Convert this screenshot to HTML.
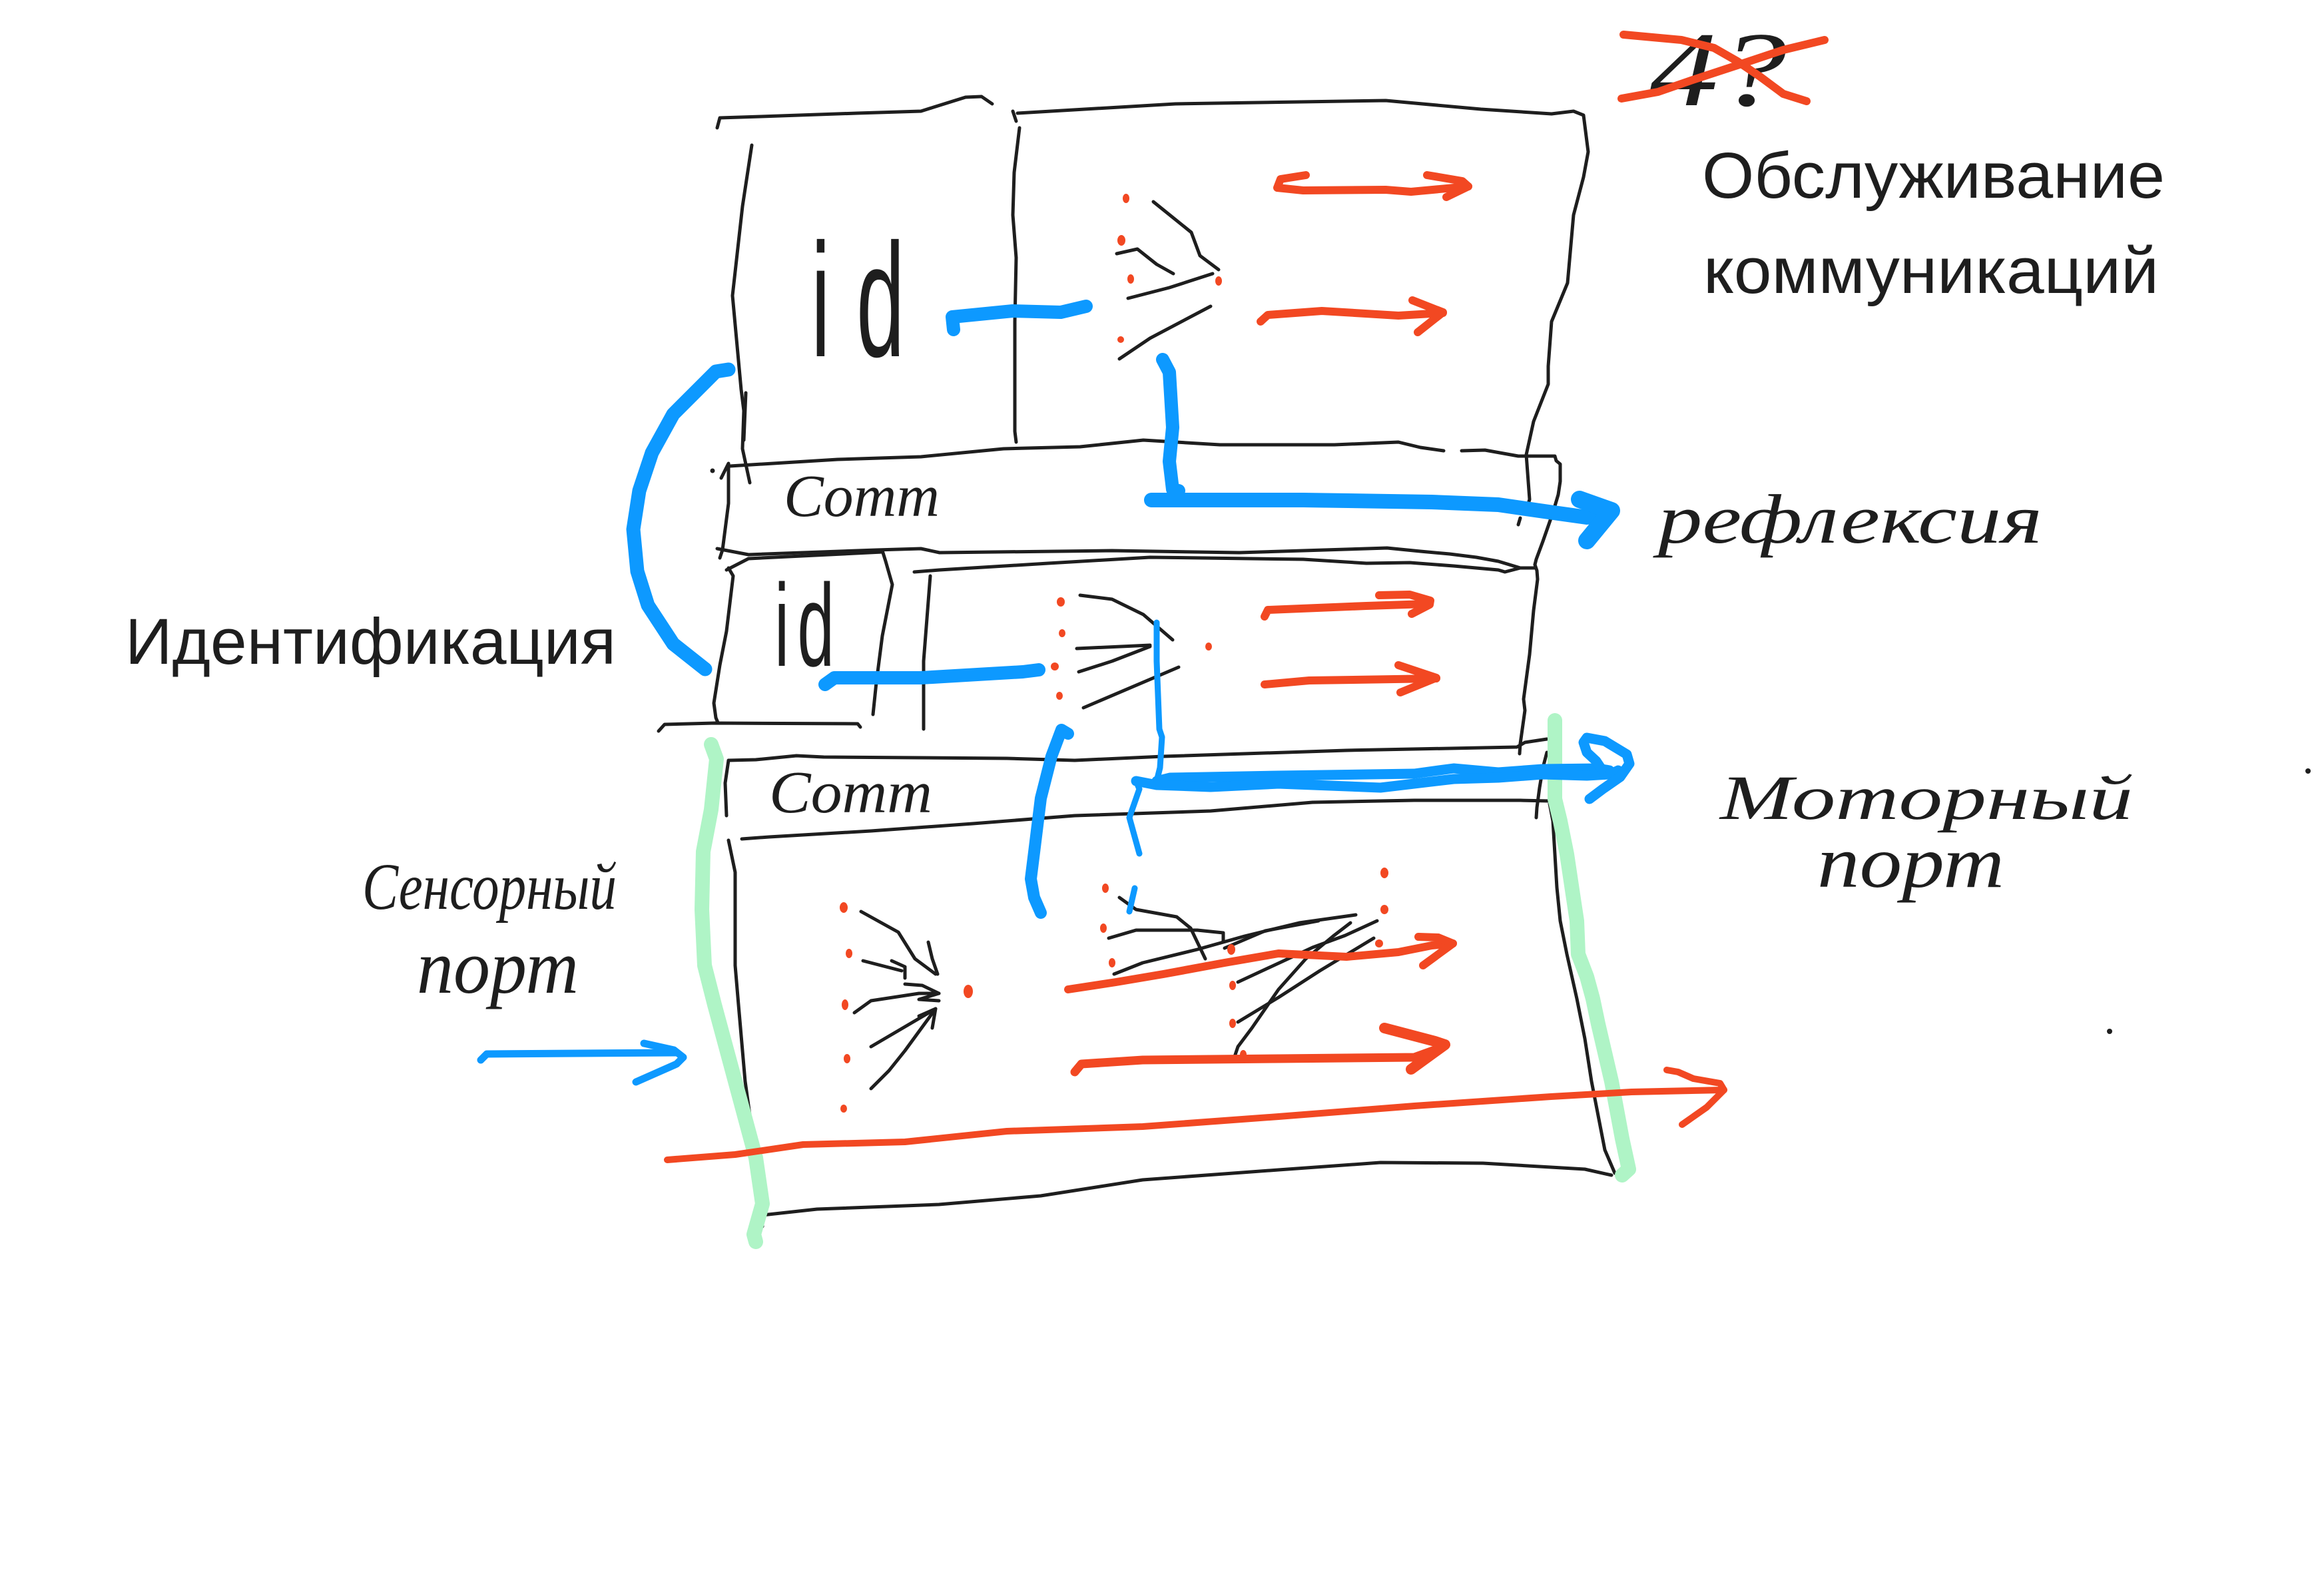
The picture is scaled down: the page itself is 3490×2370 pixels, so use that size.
<!DOCTYPE html>
<html>
<head>
<meta charset="utf-8">
<style>
  html,body{margin:0;padding:0;background:#fff;}
  body{width:3490px;height:2370px;overflow:hidden;position:relative;}
  svg{position:absolute;left:0;top:0;}
  .k{stroke:#1e1e1e;stroke-width:5;fill:none;stroke-linecap:round;stroke-linejoin:round;}
  .r{stroke:#f24822;stroke-width:12;fill:none;stroke-linecap:round;stroke-linejoin:round;}
  .b{stroke:#0d99ff;fill:none;stroke-linecap:round;stroke-linejoin:round;}
  .g{stroke:#aff4c6;stroke-width:22;fill:none;stroke-linecap:round;stroke-linejoin:round;}
  .hw{font-family:"Liberation Serif","DejaVu Serif",serif;font-style:italic;fill:#1e1e1e;}
  .pt{font-family:"Liberation Sans","DejaVu Sans",sans-serif;fill:#1e1e1e;}
  .idt{font-family:"DejaVu Sans ExtraLight","Liberation Sans",sans-serif;font-weight:200;fill:#1e1e1e;}
</style>
</head>
<body>
<svg width="3490" height="2370" viewBox="0 0 3490 2370" xmlns="http://www.w3.org/2000/svg">
  <rect x="0" y="0" width="3490" height="2370" fill="#fff"/>

  <!-- ===== black structure ===== -->
  <g class="k">
    <!-- top box -->
    <path d="M1077,192 L1081,177 L1143,175 L1287,170 L1383,167 L1402,161 L1450,146 L1474,145 L1490,156"/>
    <path d="M1521,167 L1526,182"/>
    <path d="M1528,170 L1765,156 L2081,151 L2224,164 L2330,171 L2363,167 L2378,173 L2385,228 L2378,266 L2363,323 L2354,425 L2330,483 L2325,550 L2325,577 L2303,633 L2292,683 L2297,750 L2294,760"/>
    <path d="M2283,778 L2280,788"/>
    <path d="M1129,218 L1115,310 L1100,444 L1113,585 L1117,617 L1115,674 L1126,725"/>
    <path d="M1120,590 L1117,661"/>
    <path d="M1531,192 L1523,259 L1521,323 L1526,387 L1524,483 L1524,648 L1526,664"/>

    <!-- comm bar 1 -->
    <path d="M1096,700 L1258,690 L1383,686 L1507,674 L1622,671 L1717,661 L1832,668 L2004,668 L2100,664 L2133,672 L2168,677"/>
    <path d="M2195,677 L2230,676 L2280,685 L2335,685 L2337,692 L2343,697 L2343,723 L2340,743 L2332,770 L2317,813 L2307,840 L2305,848"/>
    <path d="M1083,718 L1094,696 L1094,756 L1085,826 L1081,838"/>
    <path d="M1077,824 L1124,833 L1316,826 L1383,824 L1411,830 L1670,827 L1861,830 L1957,827 L2052,824 L2083,823 L2133,828 L2177,832 L2217,837 L2250,843 L2283,853"/>
    <path d="M1091,856 L1124,839 L1325,829"/>
    <path d="M1373,859 L1411,856 L1574,846 L1727,837 L1957,840 L2052,846 L2117,845 L2183,850 L2250,856 L2260,859 L2283,853 L2305,853"/>

    <!-- box 2 -->
    <path d="M1094,853 L1101,865 L1091,948 L1081,999 L1072,1056 L1075,1078 L1078,1085"/>
    <path d="M1325,827 L1330,843 L1340,878 L1325,955 L1316,1025 L1311,1073"/>
    <path d="M1397,865 L1387,993 L1387,1095"/>
    <path d="M2305,848 L2308,857 L2309,870 L2303,917 L2297,983 L2288,1050 L2290,1067 L2283,1117 L2282,1132"/>
    <path d="M989,1098 L998,1088 L1073,1086 L1288,1087 L1292,1092"/>

    <!-- selector 1 -->
    <path d="M1732,303 L1789,349 L1802,384 L1830,405"/>
    <path d="M1677,381 L1708,374 L1737,397 L1762,411"/>
    <path d="M1694,448 L1756,432 L1821,411"/>
    <path d="M1681,539 L1727,508 L1818,460"/>

    <!-- selector 2 -->
    <path d="M1622,894 L1670,900 L1717,923 L1761,961"/>
    <path d="M1617,974 L1727,969"/>
    <path d="M1620,1009 L1670,993 L1727,971"/>
    <path d="M1627,1063 L1770,1002"/>

    <!-- comm bar 2 -->
    <path d="M1094,1142 L1135,1141 L1196,1135 L1237,1137 L1512,1139 L1614,1142 L1747,1136 L2022,1127 L2227,1123 L2278,1122 L2290,1115 L2323,1110"/>
    <path d="M1091,1225 L1089,1176 L1094,1142"/>
    <path d="M1114,1260 L1155,1257 L1308,1248 L1461,1237 L1614,1225 L1818,1218 L1971,1205 L2124,1202 L2283,1202 L2327,1203"/>
    <path d="M2323,1130 L2317,1153 L2312,1183 L2308,1213 L2307,1228"/>

    <!-- big box -->
    <path d="M1094,1262 L1104,1310 L1104,1450 L1109,1509 L1119,1624 L1135,1739 L1145,1842"/>
    <path d="M2327,1207 L2332,1233 L2335,1283 L2338,1333 L2343,1383 L2353,1433 L2368,1500 L2380,1560 L2390,1624 L2410,1727 L2425,1762"/>
    <path d="M1145,1825 L1227,1816 L1410,1809 L1563,1796 L1716,1772 L1920,1757 L2073,1746 L2227,1747 L2380,1756 L2420,1765"/>

    <!-- fan 3 (left) -->
    <path d="M1293,1369 L1349,1400 L1374,1440 L1405,1463"/>
    <path d="M1394,1415 L1400,1440 L1408,1463"/>
    <path d="M1296,1443 L1354,1458"/>
    <path d="M1339,1443 L1359,1452 L1359,1469"/>
    <path d="M1359,1478 L1385,1480 L1410,1492 L1380,1501 L1410,1503"/>
    <path d="M1283,1521 L1308,1503 L1380,1492 L1410,1492"/>
    <path d="M1308,1572 L1400,1518"/>
    <path d="M1308,1635 L1335,1608 L1359,1578 L1405,1515"/>
    <path d="M1380,1526 L1405,1515 L1400,1544"/>

    <!-- fan 4 (right) -->
    <path d="M1681,1348 L1706,1366 L1767,1377 L1788,1394 L1810,1440"/>
    <path d="M1665,1409 L1706,1397 L1798,1397 L1837,1401 L1837,1414"/>
    <path d="M1673,1463 L1716,1446 L1798,1426 L1869,1406 L1951,1386 L2036,1374"/>
    <path d="M1839,1424 L1900,1398 L1980,1383"/>
    <path d="M2068,1383 L2020,1405 L1971,1423 L1859,1475"/>
    <path d="M2028,1386 L2002,1406 L1961,1440 L1920,1486 L1880,1544 L1859,1572 L1854,1587"/>
    <path d="M2063,1409 L1982,1458 L1920,1498 L1859,1535"/>
  </g>
  <circle cx="1070" cy="707" r="3.5" fill="#1e1e1e"/>
  <circle cx="3466" cy="1158" r="4" fill="#1e1e1e"/>
  <circle cx="3168" cy="1549" r="4" fill="#1e1e1e"/>

  <!-- ===== green highlighters ===== -->
  <g class="g">
    <path d="M1068,1118 L1076,1140 L1068,1216 L1056,1279 L1054,1366 L1058,1450 L1073,1509 L1104,1624 L1135,1739 L1145,1808 L1132,1854 L1135,1865"/>
    <path d="M2335,1082 L2335,1200 L2343,1233 L2353,1283 L2363,1350 L2368,1383 L2370,1433 L2383,1467 L2392,1500 L2400,1538 L2420,1624 L2436,1710 L2446,1756 L2436,1765"/>
  </g>

  <!-- ===== red ===== -->
  <g class="r">
    <path d="M1961,263 L1923,269 L1918,282 L1957,286 L2081,285 L2119,288 L2205,280"/>
    <path d="M2143,263 L2196,272 L2205,280 L2172,296"/>
    <path d="M1893,483 L1904,473 L1985,467 L2100,474 L2167,470"/>
    <path d="M2121,451 L2167,469 L2129,499"/>

    <path d="M1899,926 L1904,916 L2052,910 L2143,907"/>
    <path d="M2071,894 L2117,893 L2148,902 L2147,908 L2120,922"/>
    <path d="M1899,1028 L1966,1022 L2157,1019"/>
    <path d="M2100,999 L2157,1018 L2103,1040"/>

    <path d="M1604,1486 L1676,1475 L1747,1463 L1839,1446 L1920,1432 L2022,1437 L2100,1430 L2150,1420 L2182,1417"/>
    <path d="M2130,1407 L2160,1408 L2182,1417 L2137,1450"/>
    <path d="M1614,1610 L1624,1598 L1716,1592 L1920,1590 L2124,1588 L2160,1575" style="stroke-width:13"/>
    <path d="M2079,1544 L2155,1564 L2170,1569 L2119,1606" style="stroke-width:16"/>

    <path d="M1002,1742 L1104,1734 L1206,1719 L1359,1715 L1512,1699 L1716,1692 L1920,1677 L2124,1661 L2329,1647 L2450,1640 L2589,1637" style="stroke-width:10"/>
    <path d="M2503,1607 L2520,1610 L2543,1620 L2583,1627 L2589,1637 L2563,1663 L2526,1689" style="stroke-width:10"/>
  </g>
  <!-- red dots -->
  <g fill="#f24822">
    <ellipse cx="1691" cy="298" rx="5" ry="7"/>
    <ellipse cx="1684" cy="361" rx="6" ry="8"/>
    <ellipse cx="1698" cy="419" rx="5" ry="7"/>
    <ellipse cx="1683" cy="510" rx="5" ry="5"/>
    <ellipse cx="1830" cy="422" rx="5" ry="7"/>
    <ellipse cx="1593" cy="904" rx="6" ry="7"/>
    <ellipse cx="1595" cy="951" rx="5" ry="6"/>
    <ellipse cx="1584" cy="1001" rx="6" ry="6"/>
    <ellipse cx="1591" cy="1045" rx="5" ry="6"/>
    <ellipse cx="1815" cy="971" rx="5" ry="6"/>
    <ellipse cx="1267" cy="1363" rx="6" ry="8"/>
    <ellipse cx="1275" cy="1432" rx="5" ry="7"/>
    <ellipse cx="1269" cy="1509" rx="5" ry="8"/>
    <ellipse cx="1272" cy="1590" rx="5" ry="7"/>
    <ellipse cx="1267" cy="1665" rx="5" ry="6"/>
    <ellipse cx="1454" cy="1489" rx="7" ry="10"/>
    <ellipse cx="1660" cy="1334" rx="5" ry="7"/>
    <ellipse cx="1657" cy="1394" rx="5" ry="7"/>
    <ellipse cx="1670" cy="1446" rx="5" ry="7"/>
    <ellipse cx="2079" cy="1311" rx="6" ry="8"/>
    <ellipse cx="2079" cy="1366" rx="6" ry="7"/>
    <ellipse cx="2071" cy="1417" rx="6" ry="6"/>
    <ellipse cx="1849" cy="1426" rx="6" ry="8"/>
    <ellipse cx="1851" cy="1480" rx="5" ry="7"/>
    <ellipse cx="1851" cy="1537" rx="5" ry="7"/>
    <ellipse cx="1867" cy="1584" rx="5" ry="7"/>
  </g>

  <!-- ===== blue ===== -->
  <g class="b">
    <path d="M1094,555 L1075,558 L1011,622 L979,680 L960,737 L951,795 L957,858 L973,909 L1011,967 L1059,1005" style="stroke-width:21"/>
    <path d="M1432,495 L1430,476 L1521,467 L1593,469 L1631,460" style="stroke-width:20"/>
    <path d="M1746,540 L1756,559 L1761,642 L1756,693 L1761,735 L1770,737" style="stroke-width:20"/>
    <path d="M1729,751 L1957,751 L2150,754 L2250,758 L2333,770 L2383,777 L2417,773" style="stroke-width:22"/>
    <path d="M2372,750 L2420,767 L2383,812" style="stroke-width:26"/>
    <path d="M1239,1028 L1253,1018 L1383,1018 L1536,1009 L1560,1006" style="stroke-width:20"/>
    <path d="M1737,935 L1737,993 L1741,1095 L1745,1107 L1742,1153 L1737,1173" style="stroke-width:9"/>
    <path d="M1706,1173 L1711,1185 L1696,1228 L1711,1282" style="stroke-width:9"/>
    <path d="M1737,1173 L1757,1168 L1920,1165 L2124,1162 L2183,1154 L2250,1160 L2317,1155 L2400,1154 L2417,1157" style="stroke-width:15"/>
    <path d="M1706,1173 L1737,1179 L1818,1182 L1920,1177 L2073,1183 L2183,1170 L2250,1168 L2317,1163 L2383,1165 L2417,1163 L2430,1157" style="stroke-width:15"/>
    <path d="M2387,1200 L2407,1185 L2433,1167 L2447,1147 L2443,1133 L2410,1113 L2383,1108 L2378,1115 L2383,1130 L2397,1143 L2405,1155" style="stroke-width:15"/>
    <path d="M1604,1102 L1594,1096 L1579,1136 L1563,1199 L1553,1280 L1548,1320 L1553,1348 L1563,1371" style="stroke-width:18"/>
    <path d="M1704,1334 L1696,1369" style="stroke-width:9"/>
    <path d="M722,1592 L731,1583 L1016,1581" style="stroke-width:11"/>
    <path d="M967,1567 L1012,1577 L1026,1588 L1016,1598 L955,1625" style="stroke-width:11"/>
  </g>

  <!-- ===== handwritten labels (as text) ===== -->
  <text class="hw" x="1177" y="775" font-size="90" textLength="234" lengthAdjust="spacingAndGlyphs">Comm</text>
  <text class="hw" x="1155" y="1220" font-size="90" textLength="245" lengthAdjust="spacingAndGlyphs">Comm</text>
  <g transform="translate(1218,535) scale(1.3,2.43)">
    <text class="idt" x="0" y="0" font-size="100" textLength="108" lengthAdjust="spacing">id</text>
  </g>
  <g transform="translate(1163,1000) scale(1.0,1.76)">
    <text class="idt" x="0" y="0" font-size="100" textLength="90" lengthAdjust="spacing">id</text>
  </g>
  <text class="hw" x="2490" y="815" font-size="105" textLength="577" lengthAdjust="spacingAndGlyphs">рефлексия</text>
  <text class="hw" x="2583" y="1230" font-size="95" textLength="620" lengthAdjust="spacingAndGlyphs">Моторный</text>
  <text class="hw" x="2729" y="1332" font-size="110" textLength="281" lengthAdjust="spacingAndGlyphs">порт</text>
  <text class="hw" x="544" y="1365" font-size="100" textLength="382" lengthAdjust="spacingAndGlyphs">Сенсорный</text>
  <text class="hw" x="626" y="1491" font-size="115" textLength="243" lengthAdjust="spacingAndGlyphs">порт</text>
  <text class="hw" x="2478" y="158" font-size="160" textLength="205" lengthAdjust="spacingAndGlyphs">4?</text>

  <!-- red cross over 4? -->
  <g class="r">
    <path d="M2438,52 L2525,60 L2574,72 L2609,92 L2643,115 L2678,141 L2713,152"/>
    <path d="M2435,148 L2490,138 L2539,121 L2609,98 L2678,75 L2740,60"/>
  </g>

  <!-- ===== printed labels ===== -->
  <text class="pt" x="2556" y="297" font-size="97" textLength="695" lengthAdjust="spacingAndGlyphs">Обслуживание</text>
  <text class="pt" x="2558" y="440" font-size="97" textLength="684" lengthAdjust="spacingAndGlyphs">коммуникаций</text>
  <text class="pt" x="188" y="997" font-size="97" textLength="737" lengthAdjust="spacingAndGlyphs">Идентификация</text>
</svg>
</body>
</html>
